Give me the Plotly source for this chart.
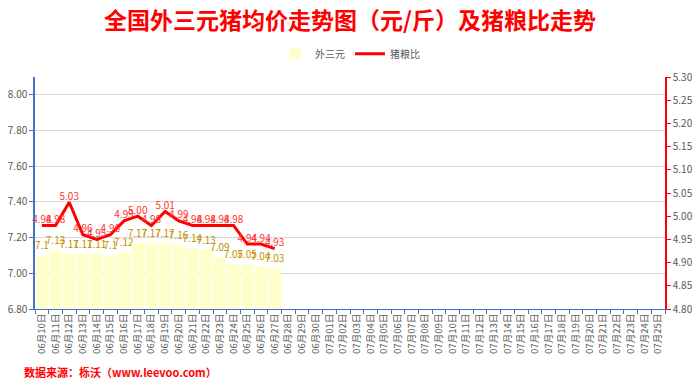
import plotly.graph_objects as go

dates = [f"06月{d:02d}日" for d in range(10, 31)] + [f"07月{d:02d}日" for d in range(1, 26)]
price_dates = dates[:18]
price = [7.10, 7.13, 7.11, 7.11, 7.11, 7.10, 7.12, 7.17, 7.17, 7.17, 7.16, 7.14, 7.13, 7.09, 7.05, 7.05, 7.04, 7.03]
ratio = [4.98, 4.98, 5.03, 4.96, 4.95, 4.96, 4.99, 5.00, 4.98, 5.01, 4.99, 4.98, 4.98, 4.98, 4.98, 4.94, 4.94, 4.93]
left_ticks = [6.8, 7.0, 7.2, 7.4, 7.6, 7.8, 8.0]
right_ticks = [4.80, 4.85, 4.90, 4.95, 5.00, 5.05, 5.10, 5.15, 5.20, 5.25, 5.30]

FONT = "Noto Sans CJK SC"
fig = go.Figure()
fig.add_trace(go.Bar(
    x=price_dates, y=price, name="外三元",
    marker=dict(color="#FFFFCC", line=dict(width=0)),
    text=[f"{v:g}" for v in price], textposition="outside",
    textfont=dict(color="#BF9000", size=10, family=FONT),
    constraintext="none",
    cliponaxis=False, yaxis="y",
))
fig.add_trace(go.Scatter(
    x=price_dates, y=ratio, name="猪粮比", mode="lines+text",
    line=dict(color="#FF0000", width=3),
    text=[f"{v:.2f}" for v in ratio], textposition="top center",
    textfont=dict(color="#FF3333", size=10, family=FONT),
    cliponaxis=False, yaxis="y2",
))

fig.update_layout(
    width=700, height=388,
    margin=dict(l=35, r=35, t=77, b=79),
    paper_bgcolor="white", plot_bgcolor="white",
    font=dict(family=FONT, color="#595959", size=10),
    title=dict(text="<b>全国外三元猪均价走势图（元/斤）及猪粮比走势</b>",
               x=0.5, xanchor="center", y=0.945, yanchor="middle",
               font=dict(color="#FF0000", size=23, family=FONT)),
    showlegend=True,
    legend=dict(orientation="h", x=0.5, xanchor="center", y=1.1, yanchor="middle",
                font=dict(size=10, color="#595959"), itemwidth=30, bgcolor="rgba(0,0,0,0)"),
    bargap=0.08,
    xaxis=dict(
        type="category", categoryorder="array", categoryarray=dates,
        range=[-0.5, len(dates) - 0.5], automargin=False,
        tickangle=-90, tickfont=dict(size=9.5, color="#595959"),
        showline=True, linecolor="#4472C4", linewidth=1,
        ticks="outside", tickcolor="#4472C4", ticklen=4, tickson="boundaries",
        showgrid=False,
    ),
    yaxis=dict(
        range=[6.8, 8.1], tickvals=left_ticks, ticktext=[f"{v:.2f}" for v in left_ticks],
        automargin=False,
        showline=True, linecolor="#4472C4", linewidth=1.5,
        ticks="outside", tickcolor="#4472C4", ticklen=4,
        showgrid=True, gridcolor="#D9D9D9", gridwidth=1, zeroline=False,
        tickfont=dict(size=10, color="#595959"),
    ),
    yaxis2=dict(
        range=[4.8, 5.3], tickvals=right_ticks, ticktext=[f"{v:.2f}" for v in right_ticks],
        overlaying="y", side="right", automargin=False,
        showline=True, linecolor="#FF0000", linewidth=1.5,
        ticks="outside", tickcolor="#FF0000", ticklen=4,
        showgrid=False, zeroline=False,
        tickfont=dict(size=10, color="#595959"),
    ),
    annotations=[dict(
        text="<b>数据来源：栎沃（www.leevoo.com）</b>", xref="paper", yref="paper",
        x=-0.02, y=-0.272, xanchor="left", yanchor="middle", showarrow=False,
        font=dict(color="#FF0000", size=11, family=FONT),
    )],
)

fig.write_html("out.html", config={"displayModeBar": False},
               post_script="document.body.style.margin='0';")
